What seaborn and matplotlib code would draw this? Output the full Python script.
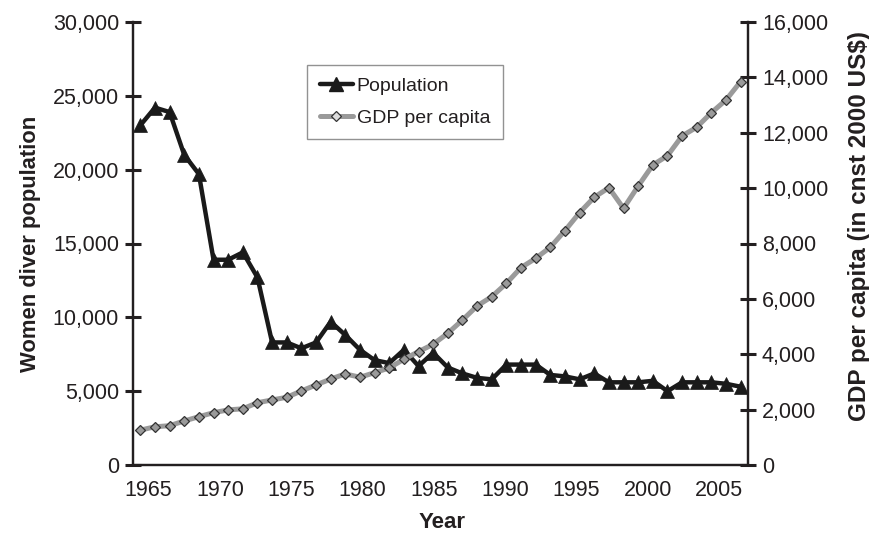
import matplotlib
matplotlib.use("Agg")
import matplotlib.pyplot as plt
import pandas as pd
import seaborn as sns
from matplotlib.ticker import (FuncFormatter, FixedLocator, FixedFormatter,
                               MultipleLocator, NullFormatter)
from matplotlib.lines import Line2D

years = list(range(1965, 2007))
population = [23000, 24200, 23900, 21000, 19700, 13900, 13900, 14400, 12700, 8300,
              8300, 7900, 8300, 9700, 8800, 7800, 7100, 6900, 7800, 6700,
              7600, 6600, 6200, 5900, 5800, 6800, 6800, 6800, 6100, 6000,
              5800, 6200, 5600, 5600, 5600, 5700, 5000, 5600, 5600, 5600,
              5500, 5300]
gdp = [1260, 1380, 1420, 1590, 1745, 1890, 1990, 2030, 2250, 2350,
       2445, 2675, 2890, 3105, 3290, 3170, 3335, 3505, 3820, 4095,
       4360, 4760, 5235, 5745, 6080, 6560, 7130, 7465, 7865, 8465,
       9115, 9670, 10015, 9270, 10075, 10835, 11170, 11885, 12200, 12725,
       13185, 13850]
year_labels = [1965, 1970, 1975, 1980, 1985, 1990, 1995, 2000, 2005]

df = pd.DataFrame({"Year": years, "Population": population, "GDP": gdp})

sns.set_style("white")
plt.rcParams["font.family"] = ["Liberation Sans", "DejaVu Sans"]
TXT = "#231f20"
SPINE = "#231f20"
FS = 15.5

fig = plt.figure(figsize=(8.69, 5.34), dpi=100)
ax = fig.add_axes([133 / 869, 1 - 465 / 534, (748 - 133) / 869, (465 - 22) / 534])
ax2 = ax.twinx()

pop_color = "#1a1a1a"
gdp_color = "#9a9a9a"

sns.lineplot(data=df, x="Year", y="Population", ax=ax, color=pop_color,
             linewidth=3.2, marker="^", markersize=10.5, markeredgecolor=pop_color,
             markerfacecolor=pop_color, markeredgewidth=0.5, legend=False)
sns.lineplot(data=df, x="Year", y="GDP", ax=ax2, color=gdp_color,
             linewidth=3.6, marker="D", markersize=5.2, markerfacecolor=gdp_color,
             markeredgecolor="#333333", markeredgewidth=0.9, legend=False)

ax.set_xlim(1964.5, 2006.5)
ax.set_ylim(0, 30000)
ax2.set_ylim(0, 16000)

comma = FuncFormatter(lambda v, p: f"{int(v):,}")
ax.yaxis.set_major_locator(MultipleLocator(5000))
ax.yaxis.set_major_formatter(comma)
ax2.yaxis.set_major_locator(MultipleLocator(2000))
ax2.yaxis.set_major_formatter(comma)

# tick marks sit on the category boundaries; the year labels run on a
# slightly tighter spacing than the categories themselves
label_pos = [1965.57 + (y - 1965) * 0.974 for y in year_labels]
ax.xaxis.set_major_locator(FixedLocator(label_pos))
ax.xaxis.set_major_formatter(FixedFormatter([str(y) for y in year_labels]))
ax.xaxis.set_minor_locator(FixedLocator([y + 0.5 for y in years[:-1]]))
ax.xaxis.set_minor_formatter(NullFormatter())
ax.tick_params(axis="x", which="major", length=0, pad=11, labelsize=FS, colors=TXT)
ax.tick_params(axis="x", which="minor", direction="inout", length=11, width=2.2,
               color=SPINE)

ax.tick_params(axis="y", which="major", direction="inout", length=12, width=2.2,
               color=SPINE, labelsize=FS, labelcolor=TXT, pad=4)
ax2.tick_params(axis="y", which="major", direction="inout", length=12, width=2.2,
                color=SPINE, labelsize=FS, labelcolor=TXT, pad=4)

for a in (ax, ax2):
    a.spines["top"].set_visible(False)
    for s in ("left", "right", "bottom"):
        a.spines[s].set_color(SPINE)
        a.spines[s].set_linewidth(1.6)
    a.grid(False)

ax.set_xlabel("Year", fontsize=16, fontweight="bold", color=TXT)
ax.xaxis.set_label_coords(0.503, -0.106)
ax.set_ylabel("Women diver population", fontsize=15.8, fontweight="bold", color=TXT)
ax.yaxis.set_label_coords(-0.150, 0.50)
ax2.set_ylabel("GDP per capita (in cnst 2000 US$)", fontsize=17.5,
               fontweight="bold", color=TXT, rotation=90)
ax2.yaxis.set_label_coords(1.162, 0.54)

handles = [
    Line2D([], [], color=pop_color, linewidth=3.2, marker="^", markersize=10.5,
           markerfacecolor=pop_color, markeredgecolor=pop_color),
    Line2D([], [], color=gdp_color, linewidth=3.6, marker="D", markersize=5,
           markerfacecolor="#dddddd", markeredgecolor="#333333", markeredgewidth=0.9),
]
leg = ax2.legend(handles, ["Population", "GDP per capita"], loc="upper left",
                 bbox_to_anchor=(0.283, 0.903), borderaxespad=0, fontsize=14,
                 frameon=True, fancybox=False, edgecolor="#777777",
                 handlelength=1.7, handletextpad=0.2, borderpad=0.65,
                 labelspacing=0.72)
leg.get_frame().set_linewidth(1.0)
for t in leg.get_texts():
    t.set_color(TXT)

fig.savefig("out.png", dpi=100, facecolor="white")
